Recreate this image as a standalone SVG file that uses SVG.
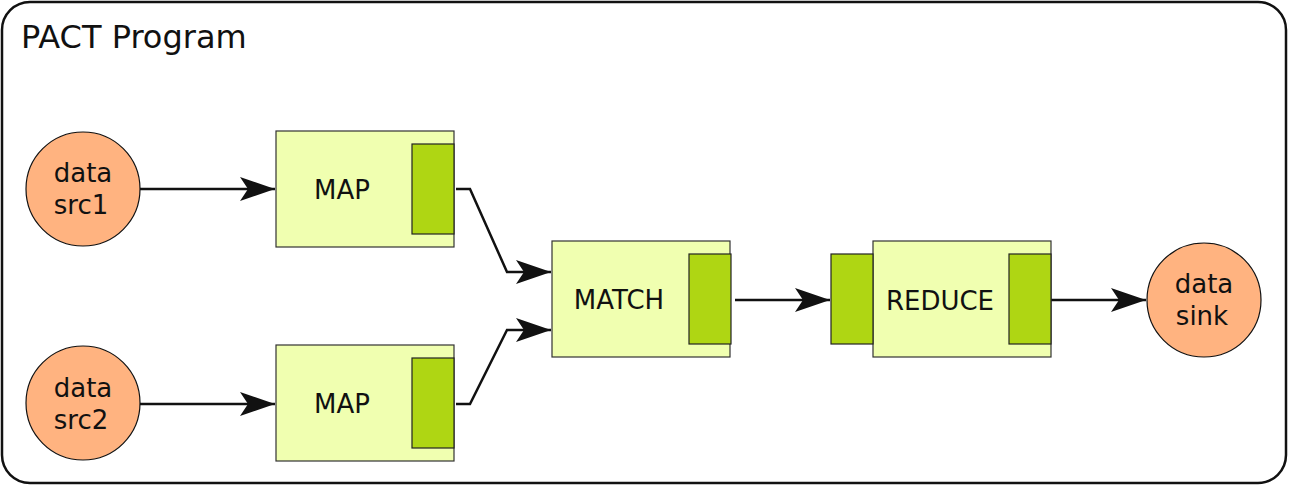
<svg xmlns="http://www.w3.org/2000/svg" width="1289" height="486" viewBox="0 0 1289 486">
<style>
.frame{fill:#fff;stroke:#111;stroke-width:2.5}
.circ{fill:#ffb380;stroke:#111;stroke-width:1.2}
.op{fill:#f0ffb0;stroke:#333;stroke-width:1.2}
.port{fill:#afd613;stroke:#222;stroke-width:1.2}
.lbl{font-family:"DejaVu Sans",sans-serif;font-size:26px;fill:#111;text-anchor:middle}
.title{font-family:"DejaVu Sans",sans-serif;font-size:32px;fill:#111}
.edge{fill:none;stroke:#111;stroke-width:2.5;marker-end:url(#arr)}
</style>
<defs>
<marker id="arr" viewBox="-36 -13 37 26" markerWidth="37" markerHeight="26" refX="0" refY="0" orient="auto" markerUnits="userSpaceOnUse">
<path d="M0,0 L-35,-12 L-27,0 L-35,12 Z" fill="#111"/>
</marker>
</defs>
<rect class="frame" x="2" y="2" width="1284" height="481" rx="28"/>
<text class="title" x="21" y="48">PACT Program</text>
<g id="edges">
<path class="edge" d="M140,189 L275,189"/>
<path class="edge" d="M140,404 L275,404"/>
<path class="edge" d="M456,189 L470,189 L507,272 L551,272"/>
<path class="edge" d="M456,404 L470,404 L507,330 L551,330"/>
<path class="edge" d="M735,300 L830,300"/>
<path class="edge" d="M1051,300 L1146,300"/>
</g>
<g id="src1"><circle class="circ" cx="83" cy="189" r="57"/><text class="lbl" x="83" y="182">data</text><text class="lbl" x="81" y="214">src1</text></g>
<g id="src2"><circle class="circ" cx="83" cy="403" r="57"/><text class="lbl" x="83" y="397">data</text><text class="lbl" x="81" y="429">src2</text></g>
<g id="sink"><circle class="circ" cx="1204" cy="300" r="57"/><text class="lbl" x="1204" y="293">data</text><text class="lbl" x="1202" y="325">sink</text></g>
<g id="map1"><rect class="op" x="276" y="131" width="178" height="116"/><rect class="port" x="412" y="144" width="42" height="90"/><text class="lbl" x="342" y="199">MAP</text></g>
<g id="map2"><rect class="op" x="276" y="345" width="178" height="116"/><rect class="port" x="412" y="358" width="42" height="90"/><text class="lbl" x="342" y="413">MAP</text></g>
<g id="match"><rect class="op" x="552" y="241" width="178" height="116"/><rect class="port" x="689" y="254" width="42" height="90"/><text class="lbl" x="619" y="309">MATCH</text></g>
<g id="reduce"><rect class="op" x="873" y="241" width="178" height="116"/><rect class="port" x="831" y="254" width="42" height="90"/><rect class="port" x="1009" y="254" width="42" height="90"/><text class="lbl" x="940" y="310">REDUCE</text></g>
</svg>
